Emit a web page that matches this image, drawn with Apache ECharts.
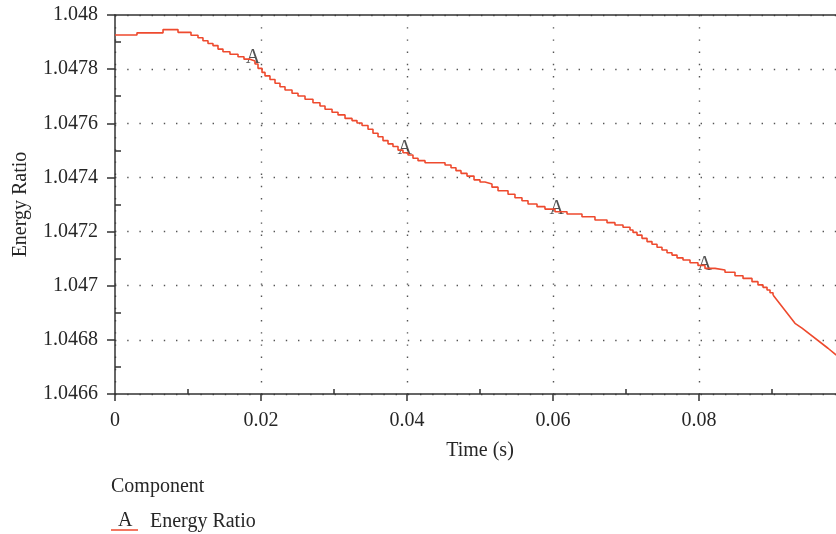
<!DOCTYPE html>
<html>
<head>
<meta charset="utf-8">
<script src="https://cdn.jsdelivr.net/npm/echarts@6/dist/echarts.min.js"></script>
<style>
  html, body { margin: 0; padding: 0; background: #fff; }
  #chart { width: 836px; height: 534px; }
</style>
</head>
<body>
<div id="chart"></div>
<script>
// stepped part of the trace (value holds from x until the next x)
var stepX = [
  0, 0.00301, 0.00658, 0.00863, 0.01041, 0.01137, 0.01205, 0.01274, 0.01342, 0.01411,
  0.01479, 0.01575, 0.01685, 0.01767, 0.01849, 0.01918, 0.01959, 0.02014, 0.02055, 0.02123,
  0.02192, 0.02260, 0.02329, 0.02425, 0.02507, 0.02603, 0.02712, 0.02808, 0.02877, 0.02973,
  0.03055, 0.03151, 0.03247, 0.03315, 0.03384, 0.03466, 0.03534, 0.03603, 0.03671, 0.03740,
  0.03808, 0.03877, 0.03945, 0.04014, 0.04082, 0.04151, 0.04247, 0.04521, 0.04603, 0.04671,
  0.04740, 0.04822, 0.04918, 0.05000, 0.05068, 0.05164, 0.05247, 0.05384, 0.05479, 0.05575,
  0.05658, 0.05781, 0.05890, 0.06027, 0.06192, 0.06397, 0.06575, 0.06740, 0.06849, 0.06959,
  0.07055, 0.07096, 0.07151, 0.07219, 0.07288, 0.07356, 0.07425, 0.07493, 0.07562, 0.07630,
  0.07699, 0.07781, 0.07877, 0.07986, 0.08082, 0.08219, 0.08356, 0.08493, 0.08603, 0.08726,
  0.08808, 0.08877, 0.08932, 0.08973, 0.09014
]
var stepY = [
  1.047926, 1.047934, 1.047946, 1.047936, 1.047925, 1.047916, 1.047905, 1.047895, 1.047887, 1.047874,
  1.047864, 1.047855, 1.047846, 1.047837, 1.047830, 1.047819, 1.047803, 1.047788, 1.047775, 1.047762,
  1.047748, 1.047735, 1.047723, 1.047711, 1.047701, 1.047689, 1.047676, 1.047664, 1.047652, 1.047641,
  1.047631, 1.047618, 1.047610, 1.047601, 1.047592, 1.047578, 1.047563, 1.047550, 1.047536, 1.047524,
  1.047514, 1.047501, 1.047491, 1.047483, 1.047471, 1.047462, 1.047454, 1.047446, 1.047436, 1.047425,
  1.047415, 1.047405, 1.047391, 1.047383, 1.047376, 1.047364, 1.047351, 1.047338, 1.047325, 1.047314,
  1.047302, 1.047292, 1.047283, 1.047273, 1.047265, 1.047255, 1.047243, 1.047233, 1.047224, 1.047216,
  1.047206, 1.047197, 1.047187, 1.047175, 1.047163, 1.047153, 1.047142, 1.047132, 1.047122, 1.047113,
  1.047103, 1.047095, 1.047085, 1.047075, 1.047064, 1.047058, 1.047050, 1.047037, 1.047027, 1.047015,
  1.047003, 1.046994, 1.046984, 1.046974, 1.046966
]
// smooth tail after ~0.09 s
var tailX = [0.09014, 0.09315, 0.09411, 0.09767, 0.0988]
var tailY = [1.046966, 1.046861, 1.046843, 1.046769, 1.046744]
// "A" marker positions on the trace
var markerX = [0.0189, 0.0397, 0.0605, 0.0808]
var markerY = [1.047826, 1.047490, 1.047271, 1.047064]

var xTicks = { min: 0, max: 0.1, interval: 0.02 }
var yTicks = { min: 1.0466, max: 1.048, interval: 0.0002 }

var FONT = 'Liberation Serif'
var FS = 20
var TXT = '#262626'
var RED = '#ee4a2e'

function pairs (xs, ys) {
  return xs.map(function (x, i) { return [x, ys[i]] })
}

var dotted = { color: '#555', width: 1.4, type: [1.4, 10.8] }
var axisLine = { show: true, onZero: false, lineStyle: { color: '#333', width: 1.5 } }

var chart = echarts.init(document.getElementById('chart'))
chart.setOption({
  animation: false,
  backgroundColor: '#fff',
  textStyle: { fontFamily: FONT, color: TXT },
  title: {
    text: 'Component',
    left: 111,
    top: 477,
    padding: 0,
    textStyle: { fontFamily: FONT, fontSize: FS, fontWeight: 'normal', color: TXT }
  },
  legend: {
    data: ['Energy Ratio'],
    left: 111,
    top: 512,
    padding: 0,
    icon: 'rect',
    itemWidth: 27,
    itemHeight: 1.5,
    formatter: '{b|{name}}',
    textStyle: {
      rich: { b: { fontFamily: FONT, fontSize: FS, color: TXT, padding: [0, 0, 16, 7] } }
    }
  },
  graphic: [{
    type: 'text',
    left: 118,
    top: 511,
    style: { text: 'A', font: FS + 'px "Liberation Serif"', fill: TXT }
  }],
  grid: { left: 115, width: 730, top: 15, bottom: 140, outerBoundsMode: 'none', containLabel: false },
  xAxis: [
    {
      type: 'value',
      min: xTicks.min,
      max: xTicks.max,
      interval: xTicks.interval,
      position: 'bottom',
      name: 'Time (s)',
      nameLocation: 'middle',
      nameGap: 47,
      nameTextStyle: { fontFamily: FONT, fontSize: FS, color: TXT },
      axisLine: axisLine,
      axisTick: { show: true, length: 7, lineStyle: { color: '#333', width: 1.5 } },
      axisLabel: { fontFamily: FONT, fontSize: FS, color: TXT, margin: 17, showMaxLabel: false },
      splitLine: { show: true, lineStyle: dotted }
    },
    {
      type: 'value',
      min: xTicks.min,
      max: xTicks.max,
      interval: xTicks.interval,
      position: 'bottom',
      axisLine: { show: false, onZero: false },
      axisTick: { show: false, inside: true },
      minorTick: { show: true, splitNumber: 2, length: 5, lineStyle: { color: '#333', width: 1.5 } },
      axisLabel: { show: false },
      splitLine: { show: false }
    },
    {
      type: 'value',
      min: xTicks.min,
      max: xTicks.max,
      position: 'top',
      axisLine: axisLine,
      axisTick: { show: false },
      axisLabel: { show: false },
      splitLine: { show: false }
    }
  ],
  yAxis: [
    {
      type: 'value',
      min: yTicks.min,
      max: yTicks.max,
      interval: yTicks.interval,
      position: 'left',
      name: 'Energy Ratio',
      nameLocation: 'middle',
      nameGap: 84,
      nameTextStyle: { fontFamily: FONT, fontSize: FS, color: TXT },
      axisLine: axisLine,
      axisTick: { show: true, length: 8, lineStyle: { color: '#333', width: 1.5 } },
      axisLabel: { fontFamily: FONT, fontSize: FS, color: TXT, margin: 17 },
      splitLine: { show: true, lineStyle: dotted }
    },
    {
      type: 'value',
      min: yTicks.min,
      max: yTicks.max,
      interval: yTicks.interval,
      position: 'left',
      axisLine: { show: false, onZero: false },
      axisTick: { show: false, inside: true },
      minorTick: { show: true, splitNumber: 2, length: 6, lineStyle: { color: '#333', width: 1.5 } },
      axisLabel: { show: false },
      splitLine: { show: false }
    }
  ],
  series: [
    {
      name: 'Energy Ratio',
      type: 'line',
      step: 'end',
      showSymbol: false,
      symbol: 'none',
      color: RED,
      lineStyle: { color: RED, width: 1.6 },
      data: pairs(stepX, stepY)
    },
    {
      name: 'Energy Ratio',
      type: 'line',
      showSymbol: false,
      symbol: 'none',
      color: RED,
      lineStyle: { color: RED, width: 1.6 },
      data: pairs(tailX, tailY)
    },
    {
      name: 'markers',
      type: 'scatter',
      symbolSize: 1,
      itemStyle: { color: 'rgba(0,0,0,0)' },
      label: {
        show: true,
        formatter: 'A',
        position: 'inside',
        offset: [0, -4],
        fontFamily: FONT,
        fontSize: FS,
        color: TXT
      },
      data: pairs(markerX, markerY)
    }
  ]
})
</script>
</body>
</html>
